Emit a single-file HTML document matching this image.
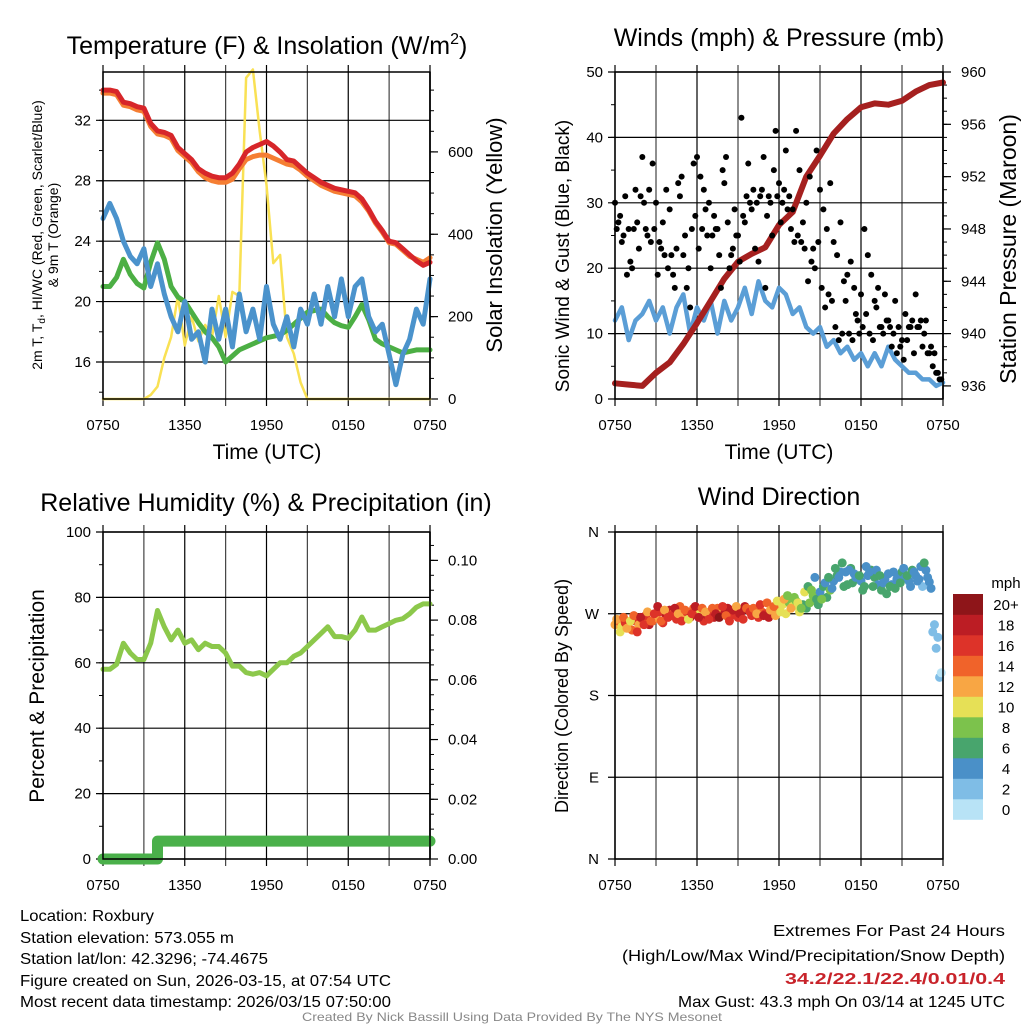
<!DOCTYPE html>
<html><head><meta charset="utf-8"><title>Roxbury Mesonet</title>
<style>
html,body{margin:0;padding:0;background:#fff;}
svg{display:block;font-family:"Liberation Sans",Arial,sans-serif;}
</style></head>
<body>
<svg id="fig" width="1024" height="1024" viewBox="0 0 1024 1024" xmlns="http://www.w3.org/2000/svg">
<rect width="1024" height="1024" fill="#fff"/>
<g id="layer"></g>
<!-- titles -->
<text x="267" y="54" font-size="25" text-anchor="middle">Temperature (F) &amp; Insolation (W/m<tspan font-size="16" dy="-10">2</tspan><tspan dy="10">)</tspan></text>
<text x="779" y="46" font-size="25" text-anchor="middle">Winds (mph) &amp; Pressure (mb)</text>
<text x="266" y="511" font-size="25" text-anchor="middle">Relative Humidity (%) &amp; Precipitation (in)</text>
<text x="779" y="505" font-size="25" text-anchor="middle">Wind Direction</text>
<!-- axis titles -->
<text x="267" y="459" font-size="21" text-anchor="middle">Time (UTC)</text>
<text x="779" y="459" font-size="21" text-anchor="middle">Time (UTC)</text>
<text transform="translate(42,235) rotate(-90)" font-size="14" text-anchor="middle">2m T, T<tspan font-size="10" dy="3">d</tspan><tspan dy="-3">, HI/WC (Red, Green, Scarlet/Blue)</tspan></text>
<text transform="translate(58,235) rotate(-90)" font-size="14" text-anchor="middle">&amp; 9m T (Orange)</text>
<text transform="translate(502,235) rotate(-90)" font-size="22" text-anchor="middle">Solar Insolation (Yellow)</text>
<text transform="translate(569,256) rotate(-90)" font-size="19" text-anchor="middle">Sonic Wind &amp; Gust (Blue, Black)</text>
<text transform="translate(1016,249) rotate(-90)" font-size="23" text-anchor="middle">Station Pressure (Maroon)</text>
<text transform="translate(44,696) rotate(-90)" font-size="21" text-anchor="middle">Percent &amp; Precipitation</text>
<text transform="translate(568,696) rotate(-90)" font-size="18" text-anchor="middle">Direction (Colored By Speed)</text>
<!-- colorbar -->
<text x="1006" y="588" font-size="15" text-anchor="middle">mph</text>
<g id="cbar"></g>
<!-- footer info -->
<g font-size="16">
<text x="20" y="921" textLength="134" lengthAdjust="spacingAndGlyphs">Location: Roxbury</text>
<text x="20" y="943" textLength="214" lengthAdjust="spacingAndGlyphs">Station elevation: 573.055 m</text>
<text x="20" y="964" textLength="248" lengthAdjust="spacingAndGlyphs">Station lat/lon: 42.3296; -74.4675</text>
<text x="20" y="986" textLength="371" lengthAdjust="spacingAndGlyphs">Figure created on Sun, 2026-03-15, at 07:54 UTC</text>
<text x="20" y="1007" textLength="371" lengthAdjust="spacingAndGlyphs">Most recent data timestamp: 2026/03/15 07:50:00</text>
</g>
<g font-size="16">
<text x="773" y="936" textLength="232" lengthAdjust="spacingAndGlyphs">Extremes For Past 24 Hours</text>
<text x="622" y="961" textLength="383" lengthAdjust="spacingAndGlyphs">(High/Low/Max Wind/Precipitation/Snow Depth)</text>
<text x="785" y="984" textLength="220" lengthAdjust="spacingAndGlyphs" fill="#c8232a" font-weight="bold">34.2/22.1/22.4/0.01/0.4</text>
<text x="678" y="1007" textLength="327" lengthAdjust="spacingAndGlyphs">Max Gust: 43.3 mph On 03/14 at 1245 UTC</text>
</g>
<text x="302" y="1021" font-size="12" textLength="420" lengthAdjust="spacingAndGlyphs" fill="#888">Created By Nick Bassill Using Data Provided By The NYS Mesonet</text>
</svg>
<script>
// ---- data (half-hourly unless noted) ----
const timeLabels = ["0750","1350","1950","0150","0750"];
const temp2m = [34.0,34.0,33.9,33.2,33.1,32.9,32.8,31.8,31.3,31.2,31.0,30.2,29.8,29.4,28.8,28.5,28.3,28.2,28.2,28.5,29.1,29.9,30.2,30.4,30.6,30.3,29.9,29.4,29.3,28.9,28.5,28.2,27.9,27.7,27.5,27.4,27.3,27.2,26.8,26.1,25.3,24.7,24.0,23.9,23.5,23.1,22.7,22.4,22.6];
const temp9m = [33.8,33.8,33.7,33.0,32.9,32.7,32.6,31.6,31.1,31.0,30.8,30.0,29.6,29.2,28.6,28.2,28.0,27.9,27.9,28.1,28.8,29.4,29.6,29.7,29.7,29.5,29.3,29.1,29.0,28.7,28.3,28.0,27.7,27.5,27.3,27.2,27.1,27.0,26.6,26.0,25.2,24.6,23.9,23.8,23.4,23.0,22.8,22.6,22.9];
const dewpoint = [21.0,21.0,21.6,22.8,21.8,21.2,20.9,22.6,23.9,22.8,21.0,20.3,20.0,19.3,18.6,18.0,17.6,17.0,16.0,16.4,16.8,17.0,17.2,17.4,17.6,17.7,17.8,18.1,18.5,18.9,19.3,19.4,19.5,19.0,18.6,18.4,18.3,19.0,19.8,18.8,17.5,17.2,17.0,16.8,16.6,16.7,16.8,16.8,16.8];
const windChill = [25.5,26.5,25.5,24.0,23.0,22.5,23.5,21.0,22.5,20.5,19.0,18.0,20.0,17.5,18.0,16.0,19.5,17.5,19.5,17.0,20.5,18.0,19.5,17.5,21.0,18.5,17.5,19.0,17.0,19.5,18.5,20.5,18.5,21.0,19.0,21.5,19.0,21.0,21.5,19.0,18.0,18.5,16.5,14.5,16.5,17.5,19.5,18.5,21.5];
const solar = [0,0,0,0,0,0,0,10,30,100,150,250,130,200,140,180,150,250,150,260,250,780,800,650,520,330,350,150,110,40,0,0,0,0,0,0,0,0,0,0,0,0,0,0,0,0,0,0,0];
const sonicWind = [12,14,9,12,13,15,12,14,10,14,16,10,14,12,15,10,15,12,14,17,13,18,15,14,17,16,13,14,11,10,11,8,9,7,8,6,7,5,7,5,8,6,5,4,4,3,3,2,2.5];
// hourly
const pressure = [936.2,936.1,936.0,937.0,937.8,939.2,940.8,942.5,944.2,945.5,946.1,946.6,948.3,949.3,952.0,953.6,955.3,956.4,957.3,957.6,957.5,957.8,958.5,959.0,959.2];
// gusts, 4 per hour each
const gustA = [30,27,24,31,26,20,32,23,37,26,32,36,30,24,27,32,29,19,23,31,22,17,14,36,37,34,32,25,20,28,26,17,33,27,22,29,25,43,27,36,29,23,21,32,17,31,25,41,33,30,38,31,29,41,35,27,30,34,23,38,32,29,26,33,24,22,27,18,19,21,17,12,16,26,22,19,15,17,11,16,12,8,15,11,9,13,11,12,16,11,8,12,7,5,4,3];
const gustB = [26,28,25,19,21,26,27,31,30,25,24,26,19,23,22,20,22,17,33,34,25,20,26,28,23,26,29,30,25,26,22,35,37,20,23,25,21,28,31,30,32,30,31,37,28,30,35,31,27,32,29,26,24,25,24,23,18,21,20,24,17,14,16,15,11,9,10,15,10,9,13,10,11,13,10,9,14,11,10,12,11,10,7,8,6,9,11,7,11,12,10,7,8,7,4,3];
const humidity = [58,58,59.5,66,63,61,61,66,76,71,67,70,66,67,64,66,65,65,63,59,59,57,56.5,57,56,58,60,60,62,63,65,67,69,71,68,68,67.5,70,74,70,70,71,72,73,73.5,75,77,78,78];
// hourly precipitation (in)
const precip = [0,0,0,0,0.006,0.006,0.006,0.006,0.006,0.006,0.006,0.006,0.006,0.006,0.006,0.006,0.006,0.006,0.006,0.006,0.006,0.006,0.006,0.006,0.006];
// wind direction (deg) & speed (mph), 4 per hour per set
const dirA = [258,262,256,260,255,252,262,258,264,268,258,262,266,272,260,268,274,270,264,278,268,272,266,276,270,274,262,268,272,266,276,270,270,276,268,272,266,272,278,274,268,274,266,272,270,266,274,268,276,280,270,282,278,284,272,280,276,282,290,286,294,300,288,296,306,312,316,300,302,320,314,308,306,300,312,318,310,302,296,308,314,302,298,312,316,310,306,318,312,308,300,318,305,250,232,200];
const speedA = [12,14,11,16,13,15,17,12,14,17,18,15,13,16,17,19,18,15,16,14,12,16,19,15,14,10,16,18,17,19,15,12,18,19,16,17,16,18,19,20,17,18,16,15,16,18,14,13,12,10,11,9,10,8,11,7,6,9,8,7,5,6,7,8,5,6,4,7,7,6,5,6,5,6,4,7,6,5,7,4,5,4,6,5,6,5,4,6,4,5,3,4,5,3,2,2];
const dirB = [264,250,266,254,262,268,250,266,258,272,262,270,278,262,274,266,268,276,270,262,274,264,270,278,266,276,272,264,276,270,266,278,268,262,274,278,270,264,276,272,276,270,280,268,282,274,278,284,272,286,290,276,288,282,276,294,300,296,310,280,286,304,310,298,320,310,326,316,318,304,310,312,296,322,316,300,318,312,304,292,300,316,308,304,320,312,300,316,306,322,326,310,298,258,244,205];
const speedB = [13,10,15,12,11,14,16,18,16,12,15,17,18,14,12,16,17,19,13,16,14,10,17,18,19,15,12,16,14,18,20,16,15,17,19,13,19,17,15,16,15,13,17,19,14,12,15,11,10,13,9,12,9,11,8,10,7,8,5,6,8,5,6,4,6,4,7,5,5,7,4,6,6,4,5,7,4,7,5,6,6,5,4,7,4,6,5,5,5,4,6,5,4,2,3,1];
const speedColors = ["#b8e3f6","#7fbde6","#4a90c8","#48a56d","#7cc24c","#e6e056","#f8a644","#f0632a","#dd3329","#bc1d24","#8e1519"];
const speedLabels = ["0","2","4","6","8","10","12","14","16","18","20+"];

const NS="http://www.w3.org/2000/svg";
const layer=document.getElementById('layer');
function mk(tag,attrs,parent){const e=document.createElementNS(NS,tag);for(const k in attrs)e.setAttribute(k,attrs[k]);(parent||layer).appendChild(e);return e;}
function scale(d0,d1,r0,r1){return v=>r0+(v-d0)/(d1-d0)*(r1-r0);}

function panel(name,x0,x1,y0,y1){
  const g=mk('g',{});
  
  
  return {g,x0,x1,y0,y1,x:scale(0,24,x0,x1)};
}
function grid(p,yVals,yS,labels,minor,labelX){
  for(let h=0;h<=24;h+=3){
    const X=p.x(h);
    const l=mk('line',{x1:X,x2:X,y1:p.y0-7,y2:p.y1+7,stroke:(h%6==0)?'#000':'#444','stroke-width':1.2},p.g);
    
    
  }
  for(let i=0;i<timeLabels.length;i++){
    const t=mk('text',{x:p.x(i*6),y:p.y1+31,'font-size':15,'text-anchor':'middle'},p.g);
    t.textContent=timeLabels[i];
    
    
  }
  yVals.forEach((v,i)=>{
    const Y=yS(v);
    const l=mk('line',{x1:p.x0-7,x2:p.x1,y1:Y,y2:Y,stroke:'#000','stroke-width':1.2},p.g);
    
    
    const t=mk('text',{x:labelX||p.x0-12,y:Y+5,'font-size':15,'text-anchor':'end'},p.g);
    t.textContent=labels[i];
    
    
  });
  (minor||[]).forEach(v=>{const Y=yS(v);if(Y<p.y0-0.5||Y>p.y1+0.5)return;
    const l=mk('line',{x1:p.x0-4,x2:p.x0,y1:Y,y2:Y,stroke:'#000','stroke-width':1},p.g);
    
    });
}
function rightAxis(p,vals,yS,labels,minor){
  mk('line',{x1:p.x1,x2:p.x1,y1:p.y0,y2:p.y1,stroke:'#000','stroke-width':1.5},p.g);
  vals.forEach((v,i)=>{const Y=yS(v);
    const l=mk('line',{x1:p.x1,x2:p.x1+8,y1:Y,y2:Y,stroke:'#000','stroke-width':1.2},p.g);
    
    
    const t=mk('text',{x:p.x1+18,y:Y+5,'font-size':15},p.g);
    t.textContent=labels[i];
    
    });
  minor.forEach(v=>{const Y=yS(v);if(Y<p.y0-0.5||Y>p.y1+0.5)return;
    mk('line',{x1:p.x1,x2:p.x1+4,y1:Y,y2:Y,stroke:'#000','stroke-width':1},p.g);});
}
function frame(p){
  const r=mk('rect',{x:p.x0,y:p.y0,width:p.x1-p.x0,height:p.y1-p.y0,fill:'none',stroke:'#000','stroke-width':1.5},p.g);
  
  
}
function line(p,arr,yS,color,w,name){
  const step=24/(arr.length-1);
  const d=arr.map((v,i)=>(i?'L':'M')+p.x(i*step).toFixed(1)+','+yS(v).toFixed(1)).join('');
  const e=mk('path',{d,fill:'none',stroke:color,'stroke-width':w,'stroke-linejoin':'round','stroke-linecap':'round'},p.g);
  
  
  return e;
}
function range(a,b,s){const r=[];for(let v=a;v<=b+1e-9;v+=s)r.push(+v.toFixed(4));return r;}

// ---- Panel 1: temperature ----
const p1=panel('temperature-panel',103,430,72,399);
const yT=scale(13.55,35.2,399,72), yS1=scale(0,794,399,72);
grid(p1,[16,20,24,28,32],yT,["16","20","24","28","32"],range(14,34,2));
rightAxis(p1,[0,200,400,600],yS1,["0","200","400","600"],range(0,750,50));
line(p1,solar,yS1,'#f9e154',2.5,'solar-insolation-line');
line(p1,dewpoint,yT,'#4caf44',5,'dewpoint-line');
line(p1,windChill,yT,'#4b93cc',5,'wind-chill-line');
line(p1,temp9m,yT,'#f57e33',5,'temp-9m-line');
line(p1,temp2m,yT,'#d7262a',5,'temp-2m-line');
frame(p1);

// ---- Panel 2: winds & pressure ----
const p2=panel('winds-panel',615,943,72,399);
const yW=scale(0,50,399,72), yP=scale(935.0,960,399,72);
grid(p2,[0,10,20,30,40,50],yW,["0","10","20","30","40","50"],range(0,50,5));
rightAxis(p2,[936,940,944,948,952,956,960],yP,["936","940","944","948","952","956","960"],range(936,960,1));
line(p2,sonicWind,yW,'#5b9ed6',4.5,'sonic-wind-line');
line(p2,pressure,yP,'#a5201f',6,'station-pressure-line');
[gustA,gustB].forEach((arr,k)=>{
  arr.forEach((v,i)=>{
    const c=mk('circle',{cx:p2.x(i*0.25+k*0.125),cy:yW(v),r:3,fill:'#000'},p2.g);
    
    
  });
});
frame(p2);

// ---- Panel 3: humidity & precip ----
const p3=panel('humidity-panel',103,430,532,859);
const yRH=scale(0,100,859,532), yPr=scale(0,0.1095,859,532);
grid(p3,[0,20,40,60,80,100],yRH,["0","20","40","60","80","100"],range(0,100,10));
rightAxis(p3,[0,0.02,0.04,0.06,0.08,0.10],yPr,["0.00","0.02","0.04","0.06","0.08","0.10"],range(0,0.11,0.005));
line(p3,humidity,yRH,'#8cc84b',5,'humidity-line');
(function(){
  const step=24/(precip.length-1);
  let d='';
  precip.forEach((v,i)=>{const X=p3.x(i*step),Y=yPr(v);
    if(i===0)d+='M'+X+','+Y;else{d+='L'+X+','+yPr(precip[i-1])+'L'+X+','+Y;}});
  const e=mk('path',{d,fill:'none',stroke:'#4ab04a','stroke-width':11,'stroke-linecap':'round','stroke-linejoin':'round'},p3.g);
  
  
})();
frame(p3);

// ---- Panel 4: wind direction ----
const p4=panel('wind-direction-panel',615,943,532,859);
const yD=scale(0,360,859,532);
grid(p4,[360,270,180,90,0],yD,["N","W","S","E","N"],[],p4.x0-16);
[[dirA,speedA,0],[dirB,speedB,0.125]].forEach(([dirs,spd,off])=>{
  dirs.forEach((v,i)=>{
    const idx=Math.max(0,Math.min(10,Math.floor(spd[i]/2)));
    const c=mk('circle',{cx:p4.x(i*0.25+off),cy:yD(v),r:4.5,fill:speedColors[idx]},p4.g);
    
    
  });
});
frame(p4);

// ---- colorbar ----
const cb=document.getElementById('cbar');
speedLabels.forEach((lab,i)=>{
  const Y=594+(10-i)*20.5;
  const r=mk('rect',{x:953,y:Y,width:30,height:20.8,fill:speedColors[i]},cb);
  
  
  const t=mk('text',{x:1006,y:Y+16,'font-size':15,'text-anchor':'middle'},cb);
  t.textContent=lab;
  
  
});
</script>
</body></html>
